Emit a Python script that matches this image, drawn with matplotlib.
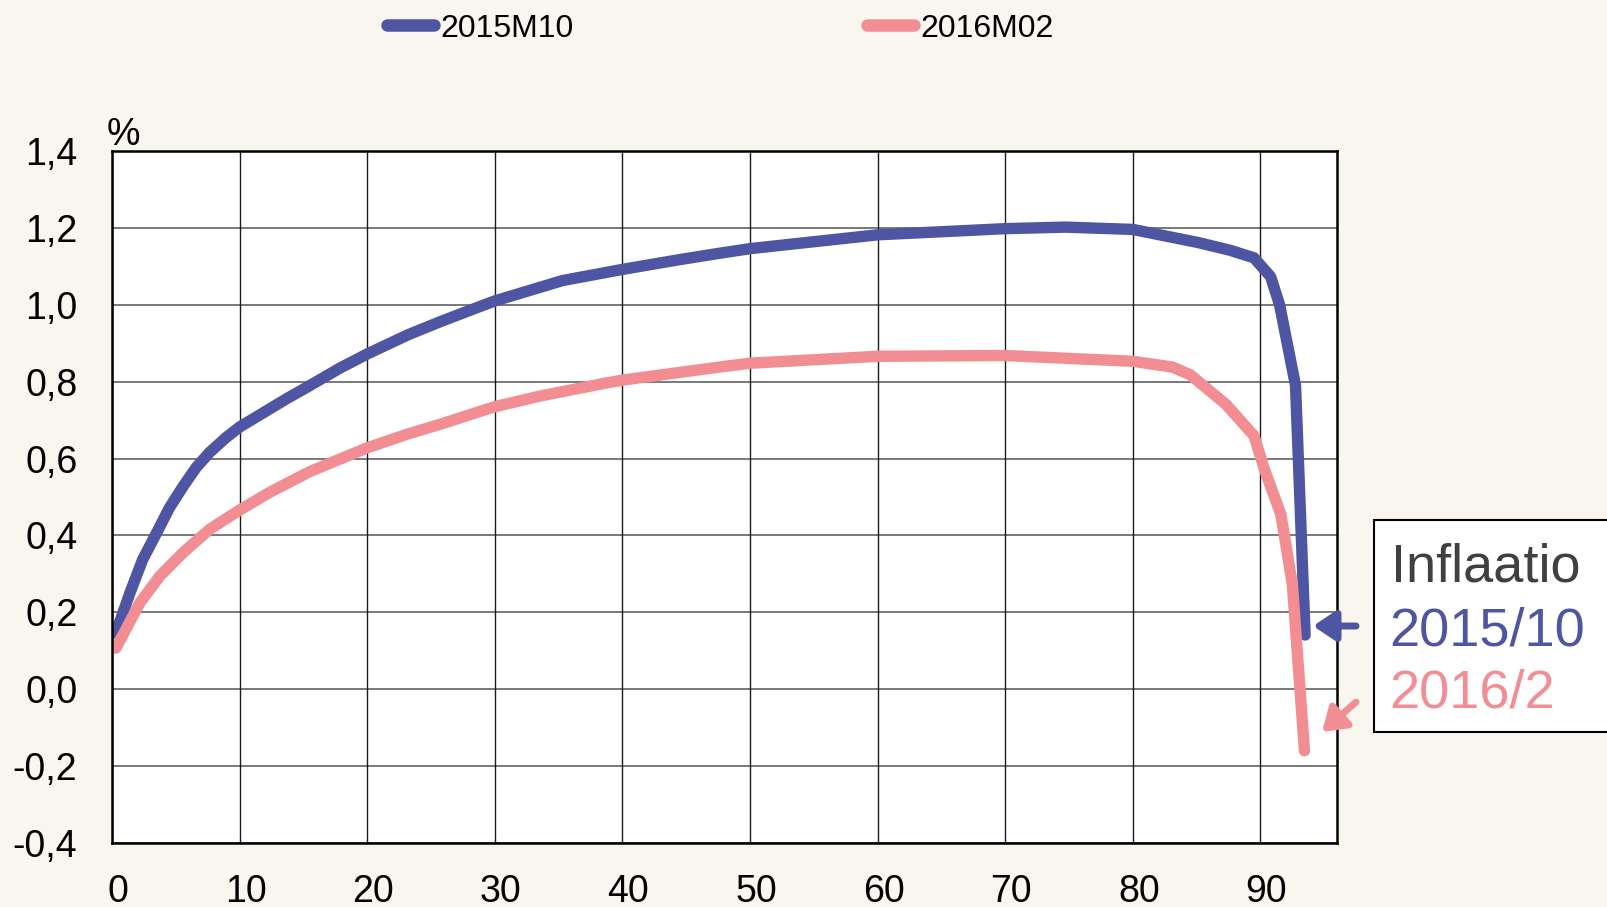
import matplotlib
matplotlib.use("Agg")
import matplotlib.pyplot as plt
import matplotlib.transforms as mtransforms
from matplotlib.lines import Line2D
from matplotlib.patches import Rectangle, FancyArrowPatch

# ---- data ----
series_names = ["2015M10", "2016M02"]
x_2015m10 = [0.3, 1.4, 2.4, 3.5, 4.5, 5.6, 6.6, 7.65, 8.95, 10, 11.6, 13.7, 15.3, 17.9,
             20, 23.2, 25.8, 28.4, 30, 32.7, 35.3, 40, 44.4, 47.6, 50, 60, 70, 74.7,
             80, 85.1, 87.6, 89.5, 90.8, 91.5, 92.75, 93.5]
y_2015m10 = [0.146, 0.25, 0.337, 0.407, 0.472, 0.529, 0.577, 0.616, 0.655, 0.682, 0.714,
             0.756, 0.786, 0.836, 0.872, 0.922, 0.957, 0.99, 1.01, 1.037, 1.063, 1.092,
             1.117, 1.134, 1.146, 1.182, 1.198, 1.202, 1.196, 1.162, 1.142, 1.122, 1.073,
             1.0, 0.79, 0.141]
x_2016m02 = [0.3, 1.0, 2.17, 3.74, 5.56, 7.65, 10, 12.35, 15.5, 20, 23.2, 25.8, 30, 33.6,
             38.8, 40, 47.6, 50, 60, 70, 80, 83.1, 84.5, 87.3, 89.5, 90.3, 91.6, 92.5,
             93.45]
y_2016m02 = [0.107, 0.15, 0.224, 0.294, 0.355, 0.416, 0.466, 0.512, 0.566, 0.628, 0.664,
             0.69, 0.735, 0.763, 0.797, 0.804, 0.838, 0.848, 0.866, 0.868, 0.853, 0.838,
             0.818, 0.741, 0.659, 0.573, 0.455, 0.273, -0.16]
x_ticks = [0, 10, 20, 30, 40, 50, 60, 70, 80, 90]
y_ticks = [-0.4, -0.2, 0.0, 0.2, 0.4, 0.6, 0.8, 1.0, 1.2, 1.4]
y_tick_labels = ["-0,4", "-0,2", "0,0", "0,2", "0,4", "0,6", "0,8", "1,0", "1,2", "1,4"]
box_lines = ["Inflaatio", "2015/10", "2016/2"]

BLUE = "#4E55A2"
PINK = "#F28E93"
BG = "#F9F5EF"

plt.rcParams["font.family"] = ["Liberation Sans", "DejaVu Sans"]

W, H = 1608, 907
fig = plt.figure(figsize=(W / 100, H / 100), dpi=100, facecolor=BG)
ax = fig.add_axes([112 / W, 1 - 843 / H, (1337 - 112) / W, (843 - 151) / H])
ax.set_facecolor("white")

ax.set_xlim(0, 96)
ax.set_ylim(-0.4, 1.4)
ax.set_xticks(x_ticks)
ax.set_yticks(y_ticks)
ax.set_yticklabels(y_tick_labels)
ax.tick_params(axis="y", length=0, pad=25, labelsize=27)
ax.tick_params(axis="x", length=0, pad=22, labelsize=27)
shift = mtransforms.ScaledTranslation(6 / 100, 0, fig.dpi_scale_trans)
for lab in ax.get_xticklabels():
    lab.set_transform(lab.get_transform() + shift)

for yv in y_ticks:
    ax.axhline(yv, color="#6e6e6e", lw=1.3, zorder=1)
for xv in x_ticks:
    ax.axvline(xv, color="#1a1a1a", lw=1.0, zorder=1)

for s in ax.spines.values():
    s.set_color("black")
    s.set_linewidth(1.8)
    s.set_zorder(5)

ax.plot(x_2015m10, y_2015m10, color=BLUE, lw=8.2, solid_capstyle="round",
        solid_joinstyle="round", zorder=3)
ax.plot(x_2016m02, y_2016m02, color=PINK, lw=8.2, solid_capstyle="round",
        solid_joinstyle="round", zorder=3)

# legend
handles = [Line2D([], [], color=BLUE, lw=9, solid_capstyle="round"),
           Line2D([], [], color=PINK, lw=9, solid_capstyle="round")]
fig.legend(handles, series_names, loc="center", bbox_to_anchor=(0.448, 0.9685),
           ncol=2, frameon=False, fontsize=23, handlelength=1.45,
           handletextpad=0.2, columnspacing=9.2)

# % label
fig.text(107 / W, 1 - 145 / H, "%", fontsize=27, ha="left", va="baseline")

# info box
fig.patches.append(Rectangle((1374, H - 732), 300, 212, transform=None,
                             facecolor="white", edgecolor="black", lw=1.5))
fig.text(1391 / W, 1 - 582 / H, box_lines[0], fontsize=39, color="#404040",
         ha="left", va="baseline")
fig.text(1389 / W, 1 - 645 / H, box_lines[1], fontsize=39, color=BLUE,
         ha="left", va="baseline")
fig.text(1389 / W, 1 - 708 / H, box_lines[2], fontsize=39, color=PINK,
         ha="left", va="baseline")

# arrows
fig.add_artist(FancyArrowPatch(
    (1356, H - 626), (1313, H - 626), transform=None,
    arrowstyle="-|>,head_length=0.45,head_width=0.3", mutation_scale=30,
    color=BLUE, lw=5, shrinkA=0, shrinkB=0))
fig.add_artist(FancyArrowPatch(
    (1356, H - 702), (1322, H - 732), transform=None,
    arrowstyle="-|>,head_length=0.45,head_width=0.3", mutation_scale=30,
    color=PINK, lw=5, shrinkA=0, shrinkB=0))

fig.savefig("out.png", dpi=100, facecolor=BG)
